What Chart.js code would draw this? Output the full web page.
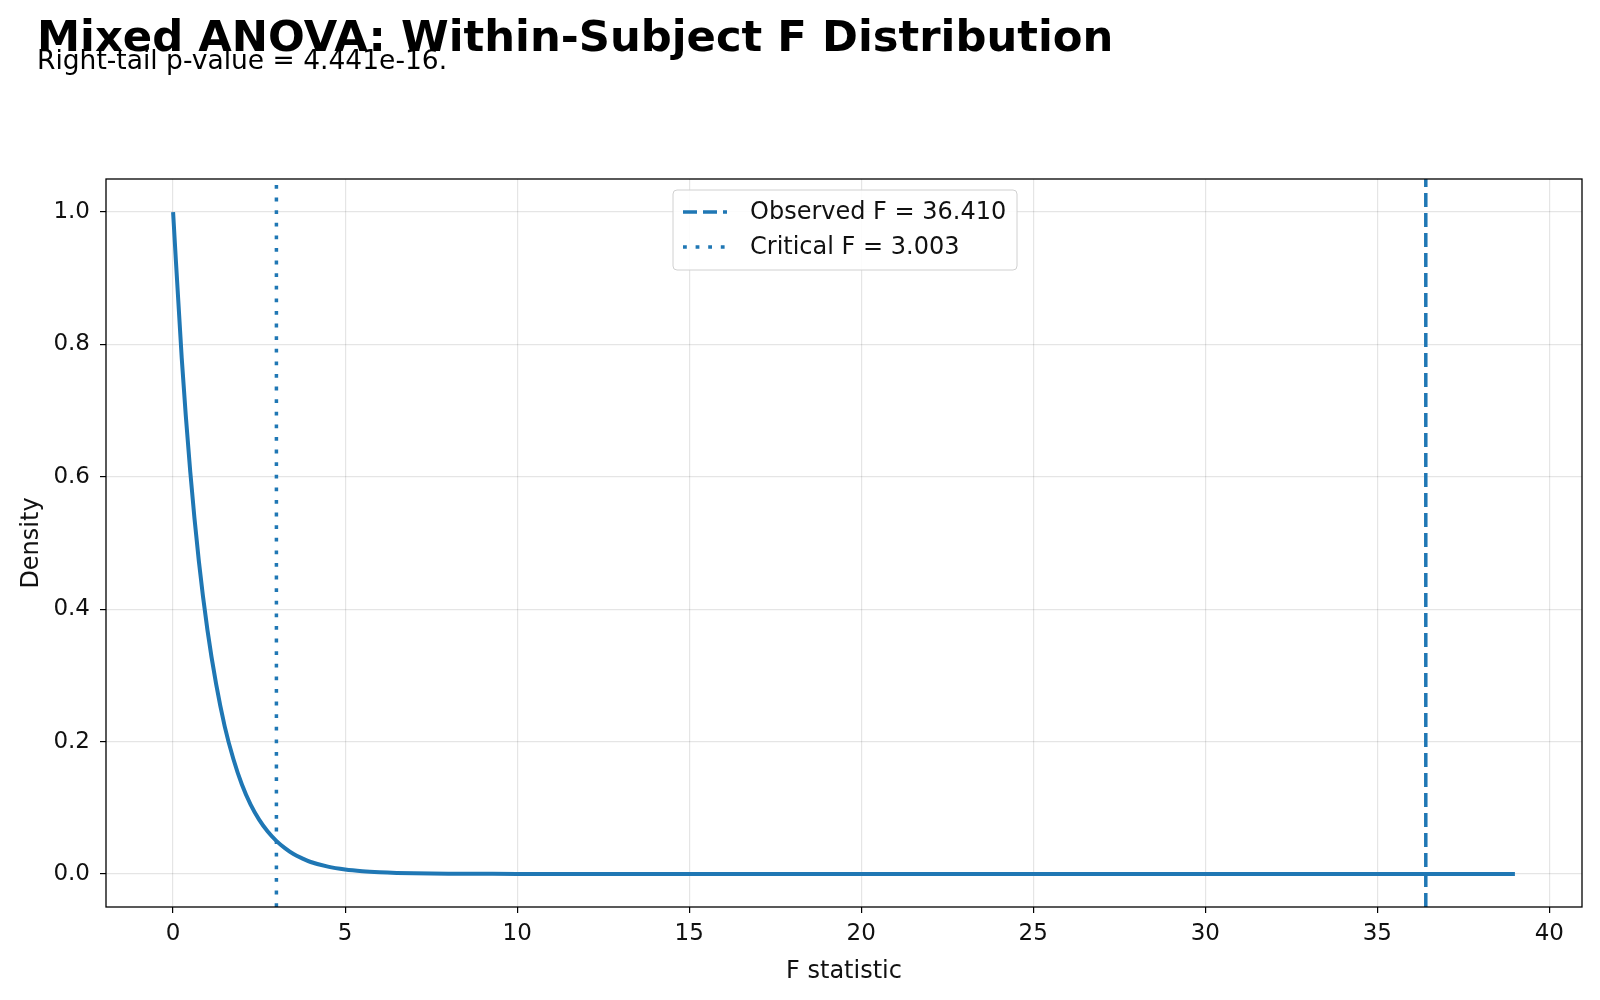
<!DOCTYPE html>
<html lang="en">
<head>
    <meta charset="UTF-8">
    <title>Mixed ANOVA: Within-Subject F Distribution</title>
    <script src="https://cdn.jsdelivr.net/npm/chart.js"></script>
    <style>
        html, body { margin: 0; padding: 0; background: #fff; }
        #wrap { width: 1600px; height: 1000px; position: relative; }
    </style>
</head>
<body>
    <div id="wrap"><canvas id="fChart"></canvas></div>
    <script>
        // F values and density
        const fValues = [0, 0.25, 0.5, 0.75, 1, 1.25, 1.5, 1.75, 2, 2.25, 2.5, 2.75, 3, 3.25, 3.5, 3.75, 4, 4.5, 5, 5.5, 6, 6.5, 7, 8, 9, 10, 12, 15, 20, 25, 30, 35, 39];
        const density = [1.0, 0.78, 0.607, 0.472, 0.368, 0.287, 0.223, 0.174, 0.135, 0.105, 0.082, 0.064, 0.050, 0.039, 0.030, 0.0235, 0.018, 0.011, 0.0067, 0.0041, 0.0025, 0.0015, 0.0009, 0.0003, 0.0001, 0.00005, 0, 0, 0, 0, 0, 0, 0];
        const observedF = 36.410;
        const criticalF = 3.003;
        const pValueText = '4.441e-16';
        const xTicks = [0, 5, 10, 15, 20, 25, 30, 35, 40];
        const yTicks = [0.0, 0.2, 0.4, 0.6, 0.8, 1.0];

        const X_MIN = -1.95, X_MAX = 40.95, Y_MIN = -0.05, Y_MAX = 1.05;
        const BLUE = '#1f77b4';
        const FONT = "'DejaVu Sans', sans-serif";

        const curve = fValues.map((x, i) => ({ x: x, y: density[i] }));
        const vline = (x) => [{ x: x, y: Y_MIN }, { x: x, y: Y_MAX }];

        // frame, titles and in-plot legend
        const decor = {
            id: 'decor',
            afterDraw(chart) {
                const { ctx, chartArea: a } = chart;
                ctx.save();
                ctx.strokeStyle = '#000';
                ctx.lineWidth = 1.3;
                ctx.strokeRect(a.left, a.top, a.right - a.left, a.bottom - a.top);

                ctx.fillStyle = '#000';
                ctx.textBaseline = 'alphabetic';
                ctx.textAlign = 'left';
                ctx.font = 'bold 43.3px ' + FONT;
                ctx.fillText('Mixed ANOVA: Within-Subject F Distribution', 37, 51);
                ctx.font = '26.5px ' + FONT;
                ctx.fillText('Right-tail p-value = ' + pValueText + '.', 37, 69);

                // legend box
                const lx = 673, ly = 190, lw = 344, lh = 80;
                ctx.fillStyle = 'rgba(255,255,255,0.85)';
                ctx.strokeStyle = '#d0d0d0';
                ctx.lineWidth = 1;
                ctx.beginPath();
                ctx.roundRect(lx, ly, lw, lh, 4);
                ctx.fill();
                ctx.stroke();

                const items = [
                    { text: 'Observed F = ' + observedF.toFixed(3), dash: [14, 6], y: ly + 22 },
                    { text: 'Critical F = ' + criticalF.toFixed(3), dash: [3.8, 8.8], y: ly + 57 }
                ];
                items.forEach(it => {
                    ctx.strokeStyle = BLUE;
                    ctx.lineWidth = 3.5;
                    ctx.setLineDash(it.dash);
                    ctx.beginPath();
                    ctx.moveTo(lx + 10, it.y);
                    ctx.lineTo(lx + 54, it.y);
                    ctx.stroke();
                    ctx.setLineDash([]);
                    ctx.fillStyle = '#111';
                    ctx.font = '24px ' + FONT;
                    ctx.textBaseline = 'middle';
                    ctx.fillText(it.text, lx + 77, it.y + 1);
                });
                ctx.restore();
            }
        };

        new Chart(document.getElementById('fChart').getContext('2d'), {
            type: 'scatter',
            data: {
                datasets: [
                    {
                        label: 'F density',
                        data: curve,
                        showLine: true,
                        borderColor: BLUE,
                        borderWidth: 4,
                        pointRadius: 0,
                        cubicInterpolationMode: 'monotone',
                        fill: false
                    },
                    {
                        label: 'Observed F = ' + observedF.toFixed(3),
                        data: vline(observedF),
                        showLine: true,
                        borderColor: BLUE,
                        borderWidth: 3.5,
                        borderDash: [14, 6],
                        pointRadius: 0
                    },
                    {
                        label: 'Critical F = ' + criticalF.toFixed(3),
                        data: vline(criticalF),
                        showLine: true,
                        borderColor: BLUE,
                        borderWidth: 3.5,
                        borderDash: [3.8, 8.8],
                        pointRadius: 0
                    }
                ]
            },
            options: {
                responsive: true,
                maintainAspectRatio: false,
                animation: false,
                layout: { padding: { top: 179, right: 18, left: 0, bottom: 0 } },
                scales: {
                    x: {
                        type: 'linear',
                        min: X_MIN,
                        max: X_MAX,
                        afterBuildTicks: (s) => { s.ticks = xTicks.map(v => ({ value: v })); },
                        afterFit: (s) => { s.height = 93; },
                        ticks: {
                            color: '#111',
                            font: { family: FONT, size: 23 },
                            padding: 7,
                            callback: (v) => String(v)
                        },
                        grid: { color: 'rgba(0,0,0,0.1)', lineWidth: 1.2, tickColor: '#000', tickLength: 6 },
                        border: { display: false },
                        title: {
                            display: true,
                            text: 'F statistic',
                            color: '#111',
                            font: { family: FONT, size: 24 },
                            padding: { top: 2, bottom: 14 }
                        }
                    },
                    y: {
                        min: Y_MIN,
                        max: Y_MAX,
                        afterBuildTicks: (s) => { s.ticks = yTicks.map(v => ({ value: v })); },
                        afterFit: (s) => { s.width = 106; },
                        ticks: {
                            color: '#111',
                            font: { family: FONT, size: 23 },
                            padding: 10,
                            callback: (v) => v.toFixed(1)
                        },
                        grid: { color: 'rgba(0,0,0,0.1)', lineWidth: 1.2, tickColor: '#000', tickLength: 6 },
                        border: { display: false },
                        title: {
                            display: true,
                            text: 'Density',
                            color: '#111',
                            font: { family: FONT, size: 24 },
                            padding: { top: 17, bottom: 0 }
                        }
                    }
                },
                plugins: {
                    legend: { display: false },
                    tooltip: { enabled: false },
                    title: { display: false }
                }
            },
            plugins: [decor]
        });
    </script>
</body>
</html>
